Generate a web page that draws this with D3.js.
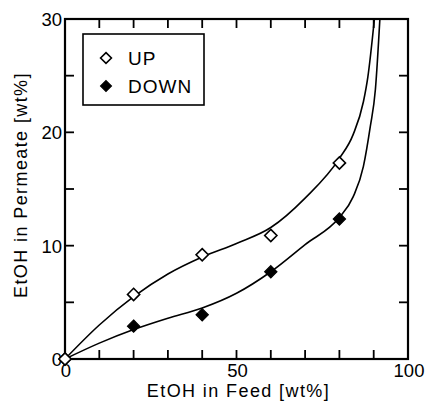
<!DOCTYPE html>
<html>
<head>
<meta charset="utf-8">
<script src="https://cdn.jsdelivr.net/npm/d3@7"></script>
<style>
  body { margin: 0; background: #fff; }
  svg { display: block; }
  text { font-family: "Liberation Sans", Arial, sans-serif; fill: #000; }
  .frame { fill: none; stroke: #000; stroke-width: 2.2; }
  .tick { stroke: #000; stroke-width: 1.8; }
  .curve { fill: none; stroke: #000; stroke-width: 1.6; }
  .up { fill: #fff; stroke: #000; stroke-width: 1.6; }
  .down { fill: #000; stroke: #000; stroke-width: 1.2; }
  .ticklabel { font-size: 18.5px; }
  .label { font-size: 18px; letter-spacing: 1.4px; }
  .legend text { font-size: 19px; letter-spacing: 1px; }
</style>
</head>
<body>
<svg width="426" height="405"></svg>
<script>
// measured points
const feed = [0, 20, 40, 60, 80]
const upPermeate = [0, 5.7, 9.2, 10.9, 17.3]
const downPermeate = [0, 2.9, 3.9, 7.7, 12.35]

// fitted lines
const upCurveX = [0, 10, 20, 30, 40, 50, 60, 70, 80, 84, 87, 88.3, 90.2]
const upCurveY = [0, 3.0, 5.5, 7.5, 9.0, 10.2, 11.6, 14.2, 17.7, 19.8, 22.7, 24.9, 30]
const downCurveX = [0, 10, 20, 30, 40, 50, 60, 70, 80, 84, 87, 89, 90.5, 91.8]
const downCurveY = [0, 1.4, 2.6, 3.6, 4.5, 5.8, 7.7, 10.1, 12.5, 14.3, 17.0, 20.5, 23.8, 30]

// axis ticks
const xTicks = [0, 10, 20, 30, 40, 50, 60, 70, 80, 90, 100]
const xTickLabels = [0, 50, 100]
const yTicks = [0, 5, 10, 15, 20, 25, 30]
const yTickLabels = [0, 10, 20, 30]

const legendNames = ["UP", "DOWN"]

const svg = d3.select("svg")

const plotLeft = 65, plotRight = 408, plotTop = 19, plotBottom = 359

// scales
const xScale = d3.scaleLinear().domain([0, 100]).range([plotLeft, plotRight])
const yScale = d3.scaleLinear().domain([0, 30]).range([plotBottom, plotTop])

// curves first so the markers sit on top
const line = d3.line()
  .x(d => xScale(d[0]))
  .y(d => yScale(d[1]))
  .curve(d3.curveMonotoneX)

svg.append("path")
  .datum(d3.zip(upCurveX, upCurveY))
  .attr("class", "curve")
  .attr("d", line)

svg.append("path")
  .datum(d3.zip(downCurveX, downCurveY))
  .attr("class", "curve")
  .attr("d", line)

// ticks point inward on all four sides
const tickLen = 9
svg.selectAll("line.xb")
  .data(xTicks)
  .enter()
  .append("line")
  .attr("class", "tick")
  .attr("x1", d => xScale(d)).attr("x2", d => xScale(d))
  .attr("y1", plotBottom).attr("y2", plotBottom - tickLen)

svg.selectAll("line.xt")
  .data(xTicks)
  .enter()
  .append("line")
  .attr("class", "tick")
  .attr("x1", d => xScale(d)).attr("x2", d => xScale(d))
  .attr("y1", plotTop).attr("y2", plotTop + tickLen)

svg.selectAll("line.yl")
  .data(yTicks)
  .enter()
  .append("line")
  .attr("class", "tick")
  .attr("y1", d => yScale(d)).attr("y2", d => yScale(d))
  .attr("x1", plotLeft).attr("x2", plotLeft + tickLen)

svg.selectAll("line.yr")
  .data(yTicks)
  .enter()
  .append("line")
  .attr("class", "tick")
  .attr("y1", d => yScale(d)).attr("y2", d => yScale(d))
  .attr("x1", plotRight).attr("x2", plotRight - tickLen)

// frame
svg.append("rect")
  .attr("class", "frame")
  .attr("x", plotLeft)
  .attr("y", plotTop)
  .attr("width", plotRight - plotLeft)
  .attr("height", plotBottom - plotTop)

// tick labels
svg.selectAll("text.xl")
  .data(xTickLabels)
  .enter()
  .append("text")
  .attr("class", "ticklabel")
  .attr("x", d => xScale(d) + 1)
  .attr("y", 377)
  .attr("text-anchor", "middle")
  .text(d => d)

svg.selectAll("text.yl")
  .data(yTickLabels)
  .enter()
  .append("text")
  .attr("class", "ticklabel")
  .attr("x", 62)
  .attr("y", d => yScale(d) + 7)
  .attr("text-anchor", "end")
  .text(d => d)

// axis titles
svg.append("text")
  .attr("class", "label")
  .attr("x", (plotLeft + plotRight) / 2 + 2)
  .attr("y", 397)
  .attr("text-anchor", "middle")
  .text("EtOH in Feed [wt%]")

svg.append("text")
  .attr("class", "label")
  .attr("transform", `translate(27,${(plotTop + plotBottom) / 2 - 4}) rotate(-90)`)
  .attr("text-anchor", "middle")
  .text("EtOH in Permeate [wt%]")

// markers
const diamond = d3.symbol().type(d3.symbolDiamond2).size(95)

svg.selectAll("path.down")
  .data(d3.zip(feed, downPermeate))
  .enter()
  .append("path")
  .attr("class", "down")
  .attr("d", diamond)
  .attr("transform", d => `translate(${xScale(d[0])},${yScale(d[1])})`)

svg.selectAll("path.up")
  .data(d3.zip(feed, upPermeate))
  .enter()
  .append("path")
  .attr("class", "up")
  .attr("d", diamond)
  .attr("transform", d => `translate(${xScale(d[0])},${yScale(d[1])})`)

// legend
const legend = svg.append("g").attr("class", "legend")

legend.append("rect")
  .attr("x", 83).attr("y", 34)
  .attr("width", 121).attr("height", 71)
  .attr("fill", "#fff")
  .attr("stroke", "#000")
  .attr("stroke-width", 1.6)

const rows = legend.selectAll("g.row")
  .data(legendNames)
  .enter()
  .append("g")
  .attr("transform", (d, i) => `translate(0,${58 + i * 28})`)

rows.append("path")
  .attr("class", (d, i) => i == 0 ? "up" : "down")
  .attr("d", d3.symbol().type(d3.symbolDiamond2).size(75))
  .attr("transform", "translate(106,0)")

rows.append("text")
  .attr("x", 128)
  .attr("y", 7)
  .text(d => d)
</script>
</body>
</html>
